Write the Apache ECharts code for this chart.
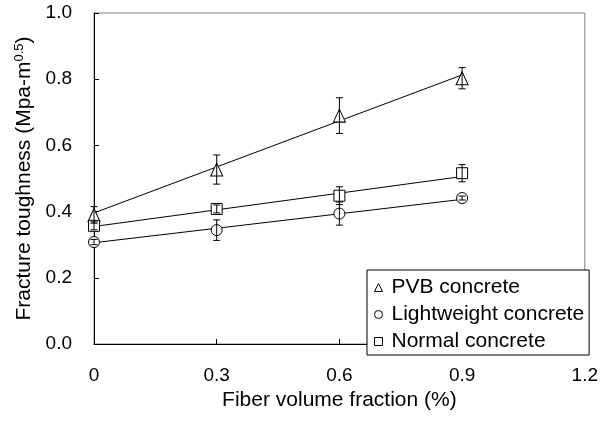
<!DOCTYPE html>
<html>
<head>
<meta charset="utf-8">
<script src="https://cdn.jsdelivr.net/npm/echarts@6/dist/echarts.min.js"></script>
<style>
  html, body { margin: 0; padding: 0; background: #fff; }
  #main { width: 601px; height: 423px; }
</style>
</head>
<body>
<div id="main"></div>
<script>
// fiber volume fraction (%)
var fractions = [0, 0.3, 0.6, 0.9];
var xTickLabels = ['0', '0.3', '0.6', '0.9', '1.2'];
var yTickLabels = ['0.0', '0.2', '0.4', '0.6', '0.8', '1.0'];

// measured toughness + error
var pvbVals = [0.39, 0.527, 0.69, 0.803];
var pvbErr = [0.025, 0.044, 0.054, 0.032];
var lightVals = [0.308, 0.344, 0.394, 0.441];
var lightErr = [0.008, 0.031, 0.035, 0.006];
var normalVals = [0.357, 0.408, 0.448, 0.516];
var normalErr = [0.012, 0.012, 0.027, 0.026];

// linear fit lines (ends at 0 and 0.9)
var fitX = [0, 0.9];
var pvbFit = [0.396, 0.813];
var lightFit = [0.306, 0.437];
var normalFit = [0.355, 0.506];

var FONT = 'Liberation Sans, Arial, sans-serif';

function pairs(xs, ys) {
    return xs.map(function (x, i) { return [x, ys[i]]; });
}
function errData(ys, es) {
    return fractions.map(function (x, i) { return [x, ys[i], es[i]]; });
}

// error bar with small caps
function renderErr(params, api) {
    var x = api.value(0), y = api.value(1), e = api.value(2);
    var hi = api.coord([x, y + e]);
    var lo = api.coord([x, y - e]);
    var st = { stroke: '#000', lineWidth: 1 };
    var w = 3.5;
    return {
        type: 'group',
        children: [
            { type: 'line', shape: { x1: hi[0], y1: hi[1], x2: lo[0], y2: lo[1] }, style: st },
            { type: 'line', shape: { x1: hi[0] - w, y1: hi[1], x2: hi[0] + w, y2: hi[1] }, style: st },
            { type: 'line', shape: { x1: lo[0] - w, y1: lo[1], x2: lo[0] + w, y2: lo[1] }, style: st }
        ]
    };
}

function fitSeries(ys) {
    return {
        type: 'line', data: pairs(fitX, ys), symbol: 'none', z: 1,
        lineStyle: { color: '#000', width: 1 }, silent: true
    };
}
function markSeries(name, symbol, size, ys) {
    return {
        name: name, type: 'scatter', data: pairs(fractions, ys), z: 2,
        symbol: symbol, symbolSize: size,
        itemStyle: { color: '#fff', borderColor: '#000', borderWidth: 1, opacity: 1 }
    };
}
function errSeries(ys, es) {
    return { type: 'custom', data: errData(ys, es), renderItem: renderErr, z: 3, silent: true };
}

var myChart = echarts.init(document.getElementById('main'));

var option = {
    animation: false,
    backgroundColor: '#fff',
    textStyle: { fontFamily: FONT, color: '#000' },
    grid: {
        left: 94, right: 16, top: 13, bottom: 79,
        show: true, borderColor: '#808080', borderWidth: 1, backgroundColor: 'transparent'
    },
    legend: {
        orient: 'vertical',
        left: 367, top: 270,
        padding: [7, 5, 3, 7],
        backgroundColor: '#fff',
        borderColor: '#000', borderWidth: 1,
        itemWidth: 8, itemHeight: 8, itemGap: 6,
        textStyle: { fontFamily: FONT, fontSize: 21, color: '#000', padding: [0, 0, 0, 4] },
        itemStyle: { color: '#fff', borderColor: '#000', borderWidth: 1 },
        data: [
            { name: 'PVB concrete', icon: 'triangle' },
            { name: 'Lightweight concrete', icon: 'circle' },
            { name: 'Normal concrete', icon: 'rect' }
        ]
    },
    xAxis: {
        type: 'value', min: 0, max: 1.2, interval: 0.3,
        name: 'Fiber volume fraction (%)',
        nameLocation: 'middle', nameGap: 44,
        nameTextStyle: { fontFamily: FONT, fontSize: 21, color: '#000' },
        axisLine: { lineStyle: { color: '#000', width: 1 } },
        axisTick: { inside: true, length: 5, lineStyle: { color: '#000' } },
        splitLine: { show: false },
        axisLabel: {
            margin: 22, fontFamily: FONT, fontSize: 19, color: '#000',
            formatter: function (v) { return xTickLabels[Math.round(v / 0.3)]; }
        }
    },
    yAxis: {
        type: 'value', min: 0, max: 1, interval: 0.2,
        name: '{a|Fracture toughness (Mpa-m}{s|0.5}{a|)}',
        nameLocation: 'middle', nameGap: 58, nameRotate: 90,
        nameTextStyle: {
            fontFamily: FONT, fontSize: 21, color: '#000',
            rich: {
                a: { fontFamily: FONT, fontSize: 21, color: '#000' },
                s: { fontFamily: FONT, fontSize: 13, color: '#000', verticalAlign: 'top', padding: [0, 0, 10, 0] }
            }
        },
        axisLine: { show: true, lineStyle: { color: '#000', width: 1 } },
        axisTick: { show: true, inside: true, length: 5, lineStyle: { color: '#000' } },
        splitLine: { show: false },
        axisLabel: {
            margin: 22, fontFamily: FONT, fontSize: 19, color: '#000',
            formatter: function (v) { return yTickLabels[Math.round(v / 0.2)]; }
        }
    },
    series: [
        fitSeries(pvbFit),
        fitSeries(lightFit),
        fitSeries(normalFit),
        markSeries('PVB concrete', 'triangle', [12, 13], pvbVals),
        markSeries('Lightweight concrete', 'circle', 11, lightVals),
        markSeries('Normal concrete', 'rect', [11, 11], normalVals),
        errSeries(pvbVals, pvbErr),
        errSeries(lightVals, lightErr),
        errSeries(normalVals, normalErr)
    ]
};

myChart.setOption(option);
</script>
</body>
</html>
